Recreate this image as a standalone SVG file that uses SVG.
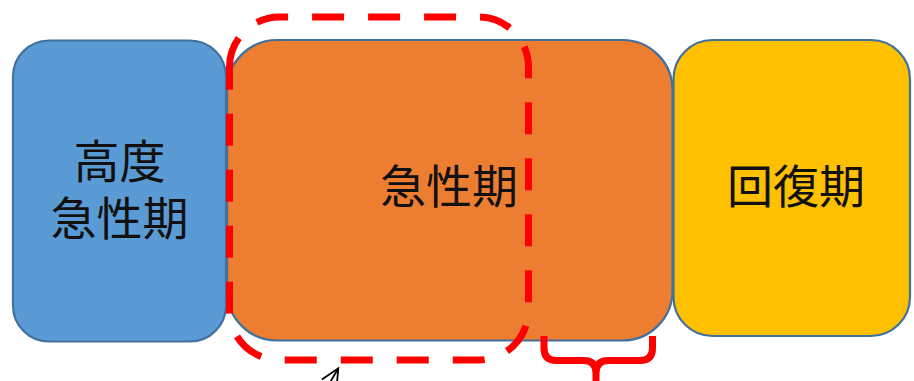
<svg xmlns="http://www.w3.org/2000/svg" width="914" height="381" viewBox="0 0 914 381">
<style>
.box{stroke:#41719C;stroke-width:2.2}
.lbl{font-family:"Noto Sans CJK JP","Noto Sans CJK SC",sans-serif;font-size:46px;fill:#111;text-anchor:middle}
.dash{fill:none;stroke:#FF0000;stroke-width:7;stroke-dasharray:32 24;stroke-dashoffset:1}
.brace{fill:none;stroke:#FF0000;stroke-width:7}
.arrow{fill:none;stroke:#000;stroke-width:1.8}
</style>
<defs>
<marker id="open" markerUnits="userSpaceOnUse" markerWidth="24" markerHeight="24" viewBox="0 0 24 24" refX="21" refY="12" orient="auto-start-reverse">
<path d="M3,3.5 L21,12 L3,20.5" fill="none" stroke="#000" stroke-width="1.8"/>
</marker>
</defs>
<g id="high-acute">
<rect class="box" x="13" y="40.5" width="213" height="301" rx="36" fill="#5B9BD5"/>
<text class="lbl" x="119.5" y="178">高度</text>
<text class="lbl" x="119.5" y="235">急性期</text>
</g>
<g id="acute">
<rect class="box" x="227" y="40" width="445.5" height="300.5" rx="50" fill="#ED7D31"/>
<text class="lbl" x="449" y="203">急性期</text>
</g>
<g id="recovery">
<rect class="box" x="673.5" y="40" width="236.5" height="296" rx="39" fill="#FFC000"/>
<text class="lbl" x="796" y="203">回復期</text>
</g>
<g id="connectors">
<path class="dash" d="M229.5,67 A50,50 0 0 1 279.5,17 H478.5 A50,50 0 0 1 528.5,67 V310 A50,50 0 0 1 478.5,360 H279.5 A50,50 0 0 1 229.5,310 Z"/>
<path class="brace" d="M544,336 V348 Q544,360.5 556.5,360.5 H583.5 Q596,360.5 596,373 V395 M652.5,336 V348 Q652.5,360.5 640,360.5 H608.5 Q596,360.5 596,373"/>
<path class="arrow" d="M338.3,368.3 L318,403" marker-start="url(#open)"/>
</g>
</svg>
